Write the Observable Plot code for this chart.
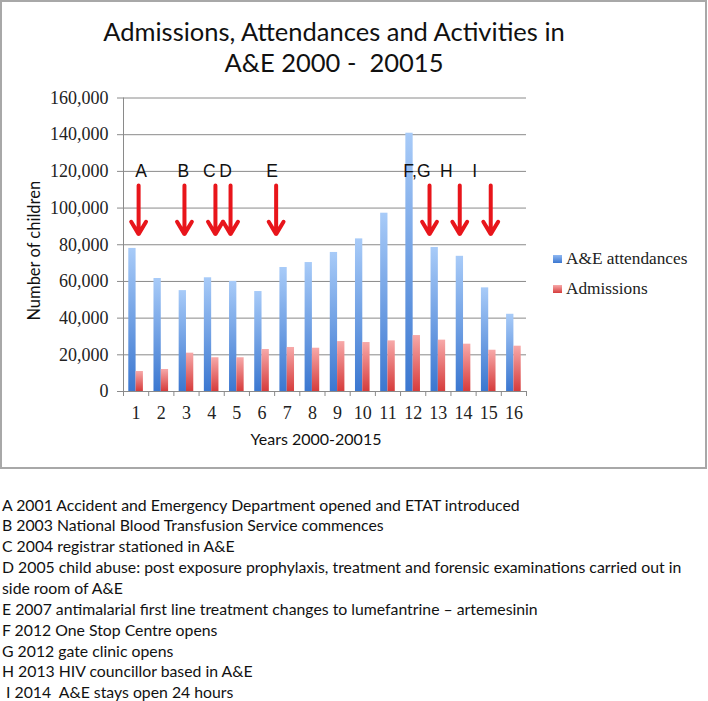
<!DOCTYPE html>
<html>
<head>
<meta charset="utf-8">
<script src="https://cdn.jsdelivr.net/npm/d3@7"></script>
<script src="https://cdn.jsdelivr.net/npm/@observablehq/plot@0.6"></script>
<style>
  body { margin: 0; background: #fff; }
  #chart { position: relative; width: 703px; height: 465px; border: 2px solid #a8a8a8; }
  #title { position: absolute; left: 0; top: 14px; width: 664px; text-align: center; font: 25.5px/31px Lato, sans-serif; color: #111; white-space: pre; }
  #plot { position: absolute; left: 0; top: 77px; }
  #legend { position: absolute; left: 551px; top: 242px; font: 17.3px "Liberation Serif", serif; color: #222; }
  .item { display: flex; align-items: center; height: 30px; }
  .sw { width: 9px; height: 8px; margin-right: 4px; }
  #caption { margin: 25.6px 0 0 2px; font: 15.8px/20.85px Lato, sans-serif; color: #111; white-space: pre; }
</style>
</head>
<body>
<div id="chart">
  <div id="title"></div>
  <div id="plot"></div>
  <div id="legend"></div>
</div>
<div id="caption"></div>
<script>
// ---- data ----
const titleLines = ["Admissions, Attendances and Activities in", "A&E 2000 -  20015"];
const years = [1, 2, 3, 4, 5, 6, 7, 8, 9, 10, 11, 12, 13, 14, 15, 16];
const attendances = [78000, 61600, 55000, 62000, 60000, 54500, 67600, 70300, 75800, 83200, 97200, 140800, 78500, 73700, 56500, 42100];
const admissions = [10900, 12000, 20900, 18400, 18400, 22900, 24000, 23600, 27200, 26700, 27600, 30500, 28000, 25800, 22500, 24700];
const seriesNames = ["A&E attendances", "Admissions"];
const yTicks = [0, 20000, 40000, 60000, 80000, 100000, 120000, 140000, 160000];
const eventLabels = ["A", "B", "C", "D", "E", "F,G", "H", "I"];
const eventLabelPos = [1.2, 2.88, 3.91, 4.55, 6.4, 12.15, 13.32, 14.44];
const eventArrowPos = [1.1, 2.92, 4.15, 4.75, 6.56, 12.65, 13.85, 15.08];
const eventLabelValue = 120000;
const arrowTopValue = 112300;
const arrowTipValue = 85800;
const yLabel = "Number of children";
const xLabel = "Years 2000-20015";
const captionLines = [
  "A 2001 Accident and Emergency Department opened and ETAT introduced",
  "B 2003 National Blood Transfusion Service commences",
  "C 2004 registrar stationed in A&E",
  "D 2005 child abuse: post exposure prophylaxis, treatment and forensic examinations carried out in\nside room of A&E",
  "E 2007 antimalarial first line treatment changes to lumefantrine – artemesinin",
  "F 2012 One Stop Centre opens",
  "G 2012 gate clinic opens",
  "H 2013 HIV councillor based in A&E",
  " I 2014  A&E stays open 24 hours"
];

// ---- tables ----
const rows = years.map((yr, i) => ({year: yr, att: attendances[i], adm: admissions[i]}));
const events = eventLabels.map((l, i) => ({label: l, lpos: eventLabelPos[i], apos: eventArrowPos[i]}));
const boundaries = d3.range(0.5, years.length + 1, 1);

const gradients = () => {
  const defs = d3.create("svg:defs");
  const mk = (id, top, bottom) => {
    const g = defs.append("linearGradient").attr("id", id).attr("x1", 0).attr("y1", 0).attr("x2", 0).attr("y2", 1);
    g.append("stop").attr("offset", "0%").attr("stop-color", top);
    g.append("stop").attr("offset", "100%").attr("stop-color", bottom);
  };
  mk("gBlue", "#a8cbf8", "#3b77d0");
  mk("gRed", "#f7a9a9", "#d63c3c");
  return defs.node();
};

const chart = Plot.plot({
  width: 703,
  height: 388,
  marginLeft: 121,
  marginRight: 179,
  marginTop: 18.5,
  marginBottom: 76,
  x: {type: "linear", domain: [0.5, years.length + 0.5], axis: null},
  y: {domain: [0, 160000], axis: null},
  style: {background: "transparent", fontFamily: "Liberation Serif", fontSize: "18px", color: "#222", overflow: "visible"},
  marks: [
    gradients,
    Plot.gridY(yTicks.slice(1), {stroke: "#8a8a8a", strokeOpacity: 1}),
    Plot.rect(rows, {x1: d => d.year - 0.29, x2: d => d.year, y1: 0, y2: "att", fill: "url(#gBlue)"}),
    Plot.rect(rows, {x1: d => d.year, x2: d => d.year + 0.29, y1: 0, y2: "adm", fill: "url(#gRed)"}),
    Plot.ruleX([0.5], {stroke: "#8a8a8a"}),
    Plot.ruleY([0], {stroke: "#8a8a8a"}),
    Plot.axisY(yTicks, {tickFormat: d3.format(","), tickSize: 6, tickPadding: 9, stroke: "#8a8a8a", fill: "#222", fontSize: 18, fontFamily: "Liberation Serif"}),
    Plot.axisX(boundaries, {tickFormat: () => "", tickSize: 5, stroke: "#8a8a8a"}),
    Plot.axisX(years, {tickSize: 0, tickPadding: 15, fill: "#222", fontSize: 18, fontFamily: "Liberation Serif"}),
    Plot.arrow(events, {x1: "apos", x2: "apos", y1: () => arrowTopValue, y2: () => arrowTipValue, stroke: "#e8151b", strokeWidth: 4, headLength: 5.4, headAngle: 62}),
    Plot.text(events, {x: "lpos", y: () => eventLabelValue, text: "label", fontSize: 17.5, fontFamily: "Liberation Sans", fill: "#111"}),
    Plot.text([yLabel], {frameAnchor: "left", textAnchor: "middle", lineAnchor: "middle", rotate: -90, dx: -89, dy: 6, fontSize: 16.5, fontFamily: "Lato", fill: "#111"}),
    Plot.text([xLabel], {frameAnchor: "bottom", lineAnchor: "middle", dx: -9, dy: 48, fontSize: 16, fontFamily: "Lato", fill: "#111"})
  ]
});
document.getElementById("plot").appendChild(chart);

document.getElementById("title").textContent = titleLines.join("\n");

const legend = document.getElementById("legend");
const swatchColors = ["linear-gradient(#8fb8f2, #3b77d0)", "linear-gradient(#f7a9a9, #d63c3c)"];
seriesNames.forEach((name, i) => {
  const item = document.createElement("div");
  item.className = "item";
  const sw = document.createElement("span");
  sw.className = "sw";
  sw.style.background = swatchColors[i];
  const t = document.createElement("span");
  t.textContent = name;
  item.appendChild(sw);
  item.appendChild(t);
  legend.appendChild(item);
});

document.getElementById("caption").textContent = captionLines.join("\n");
</script>
</body>
</html>
